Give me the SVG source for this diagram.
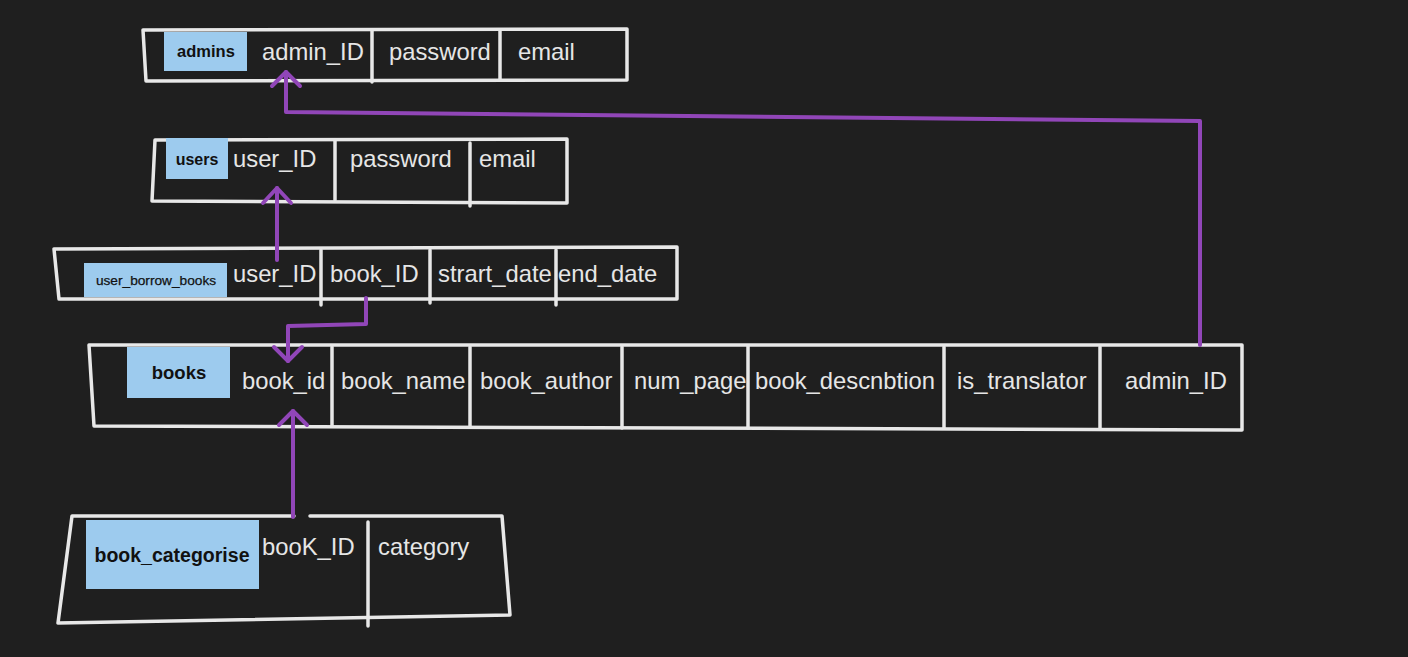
<svg xmlns="http://www.w3.org/2000/svg" width="1408" height="657" viewBox="0 0 1408 657">
<style>
.bg{fill:#1f1f1f}
.ln{fill:none;stroke:#e8e8e8;stroke-width:3.5;stroke-linecap:round;stroke-linejoin:round}
.lbl{fill:#9dcbee}
.lt{font-family:"Liberation Sans",Roboto,Arial,sans-serif;font-weight:bold;fill:#111;text-anchor:middle}
.ft{font-family:"Liberation Sans",Roboto,Arial,sans-serif;font-size:23.8px;fill:#e6e6e6}
.cn{fill:none;stroke:#9146b8;stroke-width:4;stroke-linecap:round;stroke-linejoin:round}
</style>
<rect class="bg" x="0" y="0" width="1408" height="657"/>

<g id="admins">
<polyline class="ln" points="143,30 627,29 627,80 146,81 143,30"/>
<line class="ln" x1="372" y1="31" x2="372" y2="82"/>
<line class="ln" x1="500" y1="31" x2="500" y2="80"/>
<rect class="lbl" x="164" y="32" width="83" height="39"/>
<text class="lt" x="206" y="57" font-size="16.5">admins</text>
<text class="ft" x="262" y="60">admin_ID</text>
<text class="ft" x="389" y="60">password</text>
<text class="ft" x="518" y="60">email</text>
</g>

<g id="users">
<polyline class="ln" points="155,140 567,139 567,203 152,201 155,140"/>
<line class="ln" x1="335" y1="141" x2="335" y2="200"/>
<line class="ln" x1="470" y1="143" x2="470" y2="206"/>
<rect class="lbl" x="166" y="138" width="62" height="41"/>
<text class="lt" x="197" y="165" font-size="16">users</text>
<text class="ft" x="233" y="167">user_ID</text>
<text class="ft" x="350" y="167">password</text>
<text class="ft" x="479" y="167">email</text>
</g>

<g id="user_borrow_books">
<polyline class="ln" points="54,249 677,247 677,299 59,299 54,249"/>
<line class="ln" x1="321" y1="250" x2="321" y2="305"/>
<line class="ln" x1="430" y1="250" x2="430" y2="303"/>
<line class="ln" x1="556" y1="250" x2="556" y2="305"/>
<rect class="lbl" x="84" y="263" width="143" height="34"/>
<text class="lt" x="156" y="285" font-size="13.7" style="font-weight:normal;stroke:#111;stroke-width:0.25">user_borrow_books</text>
<text class="ft" x="233" y="282">user_ID</text>
<text class="ft" x="330" y="282">book_ID</text>
<text class="ft" x="438" y="282">strart_date</text>
<text class="ft" x="558" y="282">end_date</text>
</g>

<g id="books">
<polyline class="ln" points="89,345 1242,345 1242,430 94,426 89,345"/>
<line class="ln" x1="332" y1="347" x2="332" y2="425"/>
<line class="ln" x1="470" y1="347" x2="470" y2="427"/>
<line class="ln" x1="622" y1="347" x2="622" y2="428"/>
<line class="ln" x1="748" y1="346" x2="748" y2="428"/>
<line class="ln" x1="944" y1="347" x2="944" y2="428"/>
<line class="ln" x1="1100" y1="347" x2="1100" y2="428"/>
<rect class="lbl" x="127" y="347" width="103" height="51"/>
<text class="lt" x="179" y="379" font-size="18.5">books</text>
<text class="ft" x="242" y="389">book_id</text>
<text class="ft" x="341" y="389">book_name</text>
<text class="ft" x="480" y="389">book_author</text>
<text class="ft" x="634" y="389">num_page</text>
<text class="ft" x="755" y="389">book_descnbtion</text>
<text class="ft" x="957" y="389">is_translator</text>
<text class="ft" x="1125" y="389">admin_ID</text>
</g>

<g id="book_categorise">
<polyline class="ln" points="294,516 72,516 58,623 510,615 502,516 310,516"/>
<line class="ln" x1="368" y1="522" x2="368" y2="626"/>
<rect class="lbl" x="86" y="520" width="173" height="69"/>
<text class="lt" x="172" y="562" font-size="19.5">book_categorise</text>
<text class="ft" x="262" y="555">booK_ID</text>
<text class="ft" x="378" y="555">category</text>
</g>

<g id="connectors">
<polyline class="cn" points="1200,345 1200,121 286,112 286,72"/>
<polyline class="cn" points="272,86 286,72 300,86"/>
<polyline class="cn" points="277,260 277,188"/>
<polyline class="cn" points="263,203 277,188 291,203"/>
<polyline class="cn" points="366,298 366,324 288,326 288,361"/>
<polyline class="cn" points="274,347 288,361 302,347"/>
<polyline class="cn" points="293,517 293,411"/>
<polyline class="cn" points="279,425 293,411 307,425"/>
</g>
</svg>
